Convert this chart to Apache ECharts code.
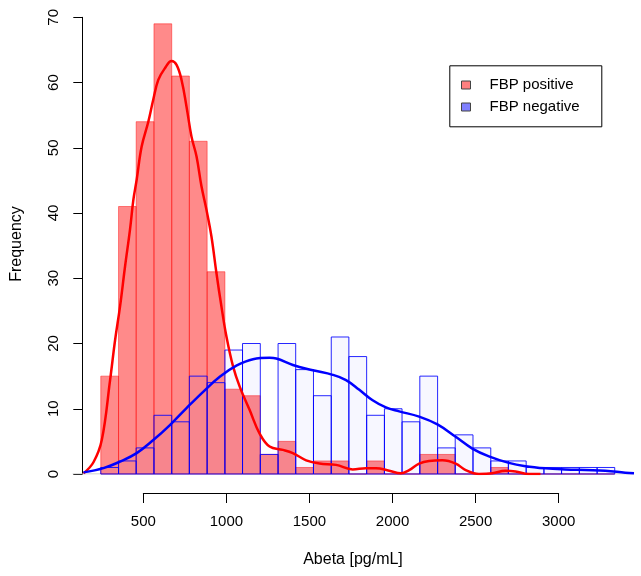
<!DOCTYPE html>
<html>
<head>
<meta charset="utf-8">
<title>Abeta histogram by FBP status</title>
<script src="https://cdn.jsdelivr.net/npm/echarts@6/dist/echarts.min.js"></script>
<style>
  html, body { margin: 0; padding: 0; background: #ffffff; }
  #chart { width: 641px; height: 576px; }
</style>
</head>
<body>
<div id="chart"></div>
<script>
// Histogram break points (pg/mL), shared by both groups
const breaks = [244, 351, 457, 564, 671, 777, 884, 991, 1097, 1204, 1311, 1417, 1524,
  1631, 1737, 1844, 1951, 2057, 2164, 2271, 2377, 2484, 2591, 2697, 2804, 2911, 3017,
  3124, 3231, 3337];

// Counts per bin
const positiveCounts = [15, 41, 54, 69, 61, 51, 31, 13, 12, 3, 5, 1, 2, 2, 0, 2, 0, 0, 3, 3,
  0, 0, 1, 0, 0, 0, 0, 0, 0];
const negativeCounts = [1, 2, 4, 9, 8, 15, 14, 19, 20, 3, 20, 16, 12, 21, 18, 9, 10, 8, 15, 4,
  6, 4, 2, 2, 1, 1, 1, 1, 1];

// Kernel density estimates, scaled to the frequency axis
const positiveDensityX = [140, 200, 250, 300, 330, 360, 390, 420, 440, 460, 490, 530, 560, 590,
  630, 670, 700, 730, 760, 790, 820, 850, 880, 910, 940, 970, 1000, 1040, 1080, 1140, 1200,
  1260, 1340, 1400, 1480, 1560, 1660, 1760, 1840, 1900, 1980, 2050, 2100, 2160, 2220, 2300,
  2380, 2440, 2520, 2600, 2680, 2740, 2820, 2890];
const positiveDensityY = [0.1, 1.8, 5.2, 14.4, 20.5, 25.7, 31.8, 37.5, 42.0, 45.1, 50.2, 54.0,
  57.4, 60.4, 62.2, 63.3, 62.7, 60.4, 56.3, 51.7, 48.7, 44.1, 40.5, 36.4, 30.8, 25.7, 21.1,
  16.5, 13.4, 9.8, 6.2, 4.2, 3.7, 3.2, 2.1, 1.6, 1.4, 0.7, 0.9, 0.9, 0.5, 0.1, 0.6, 1.6, 2.0,
  2.1, 1.6, 0.6, 0.0, 0.1, 0.5, 0.4, 0.0, 0.0];

const negativeDensityX = [140, 260, 360, 460, 560, 660, 760, 860, 960, 1060, 1160, 1260, 1300,
  1400, 1520, 1640, 1720, 1800, 1880, 1960, 2040, 2160, 2270, 2380, 2480, 2580, 2700, 2800,
  2920, 3040, 3160, 3280, 3400, 3453];
const negativeDensityY = [0.25, 0.9, 1.9, 3.2, 5.2, 7.5, 10.1, 12.6, 14.9, 16.6, 17.6, 17.8,
  17.7, 16.7, 15.9, 15.2, 14.4, 12.9, 11.3, 10.2, 9.6, 8.8, 7.6, 5.7, 3.9, 2.7, 1.7, 1.2,
  0.87, 0.7, 0.6, 0.5, 0.2, 0.1];

// Axis ticks
const xTicks = [500, 1000, 1500, 2000, 2500, 3000];
const yTicks = [0, 10, 20, 30, 40, 50, 60, 70];

const FONT = '"Liberation Sans", Arial, Helvetica, sans-serif';
const xRange = [75, 3453];

function binRows(counts) {
  return counts.map((c, i) => [breaks[i], breaks[i + 1], c]);
}
function pairs(xs, ys) {
  return xs.map((x, i) => [x, ys[i]]);
}
function histRenderer(fill, stroke) {
  return function (params, api) {
    const topLeft = api.coord([api.value(0), api.value(2)]);
    const bottomRight = api.coord([api.value(1), 0]);
    return {
      type: 'rect',
      shape: {
        x: topLeft[0],
        y: topLeft[1],
        width: bottomRight[0] - topLeft[0],
        height: bottomRight[1] - topLeft[1]
      },
      style: { fill: fill, stroke: stroke, lineWidth: 1 }
    };
  };
}

const chart = echarts.init(document.getElementById('chart'), null, { renderer: 'canvas' });

chart.setOption({
  animation: false,
  backgroundColor: '#ffffff',
  textStyle: { fontFamily: FONT },
  grid: [
    // plotting region
    { left: 72.7, right: 7, top: 17.3, bottom: 102 },
    // frame for the frequency axis (0..70)
    { left: 82.3, right: 7, top: 17.3, bottom: 102 },
    // frame for the Abeta axis (500..3000)
    { left: 143.3, right: 82.3, top: 480, bottom: 83 }
  ],
  xAxis: [
    { type: 'value', gridIndex: 0, min: xRange[0], max: xRange[1], show: false },
    { type: 'value', gridIndex: 1, min: 0, max: 1, show: false },
    {
      type: 'value', gridIndex: 2, min: xTicks[0], max: xTicks[xTicks.length - 1],
      interval: 500, position: 'bottom',
      axisLine: { show: true, lineStyle: { color: '#000', width: 1 } },
      axisTick: { show: true, length: 10, lineStyle: { color: '#000' } },
      splitLine: { show: false },
      axisLabel: {
        show: true, margin: 21, color: '#000', fontSize: 15, fontFamily: FONT,
        formatter: (v) => String(v)
      }
    }
  ],
  yAxis: [
    { type: 'value', gridIndex: 0, min: yTicks[0], max: yTicks[yTicks.length - 1], show: false },
    {
      type: 'value', gridIndex: 1, min: yTicks[0], max: yTicks[yTicks.length - 1],
      interval: 10, position: 'left',
      axisLine: { show: true, lineStyle: { color: '#000', width: 1 } },
      axisTick: { show: true, length: 9, lineStyle: { color: '#000' } },
      splitLine: { show: false },
      axisLabel: {
        show: true, rotate: 90, margin: 21, color: '#000', fontSize: 15, fontFamily: FONT,
        formatter: (v) => String(v)
      }
    },
    { type: 'value', gridIndex: 2, min: 0, max: 1, show: false }
  ],
  legend: {
    orient: 'vertical',
    left: 461,
    top: 76,
    itemWidth: 9,
    itemHeight: 8,
    itemGap: 4,
    padding: 0,
    selectedMode: false,
    textStyle: { color: '#000', fontSize: 15, fontFamily: FONT, padding: [0, 0, 0, 14], lineHeight: 18 },
    data: [
      { name: 'FBP positive', icon: 'rect', itemStyle: { color: '#FF8080', borderColor: '#444', borderWidth: 1 } },
      { name: 'FBP negative', icon: 'rect', itemStyle: { color: '#8080FF', borderColor: '#444', borderWidth: 1 } }
    ]
  },
  graphic: [
    {
      type: 'rect', left: 447.3, top: 63.3, z: 100,
      shape: { width: 152, height: 61 },
      style: { fill: 'none', stroke: '#000', lineWidth: 1 }
    },
    {
      type: 'text', x: 16.7, y: 244, rotation: Math.PI / 2,
      style: { text: 'Frequency', font: '16px ' + FONT, fill: '#000', textAlign: 'center', textVerticalAlign: 'middle' }
    },
    {
      type: 'text', x: 353, y: 560,
      style: { text: 'Abeta [pg/mL]', font: '16px ' + FONT, fill: '#000', textAlign: 'center', textVerticalAlign: 'middle' }
    }
  ],
  series: [
    {
      name: 'zero line', type: 'line', xAxisIndex: 0, yAxisIndex: 0,
      data: [[xRange[0], 0], [xRange[1], 0]], symbol: 'none', silent: true,
      lineStyle: { color: '#BEBEBE', width: 1 }, z: 1
    },
    {
      name: 'FBP positive', type: 'custom', xAxisIndex: 0, yAxisIndex: 0,
      data: binRows(positiveCounts),
      encode: { x: [0, 1], y: 2 },
      itemStyle: { color: '#FF8080' },
      renderItem: histRenderer('rgba(255,0,0,0.46)', 'rgba(255,0,0,0.45)'),
      z: 2
    },
    {
      name: 'FBP negative', type: 'custom', xAxisIndex: 0, yAxisIndex: 0,
      data: binRows(negativeCounts),
      encode: { x: [0, 1], y: 2 },
      itemStyle: { color: '#8080FF' },
      renderItem: histRenderer('rgba(0,0,255,0.03)', 'rgba(0,0,255,0.85)'),
      z: 3
    },
    {
      name: 'positive density', type: 'line', xAxisIndex: 0, yAxisIndex: 0,
      data: pairs(positiveDensityX, positiveDensityY),
      symbol: 'none', smooth: 0.4, silent: true,
      lineStyle: { color: '#FF0000', width: 2.5 }, z: 4
    },
    {
      name: 'negative density', type: 'line', xAxisIndex: 0, yAxisIndex: 0,
      data: pairs(negativeDensityX, negativeDensityY),
      symbol: 'none', smooth: 0.4, silent: true,
      lineStyle: { color: '#0000FF', width: 2.5 }, z: 5
    }
  ]
});
</script>
</body>
</html>
